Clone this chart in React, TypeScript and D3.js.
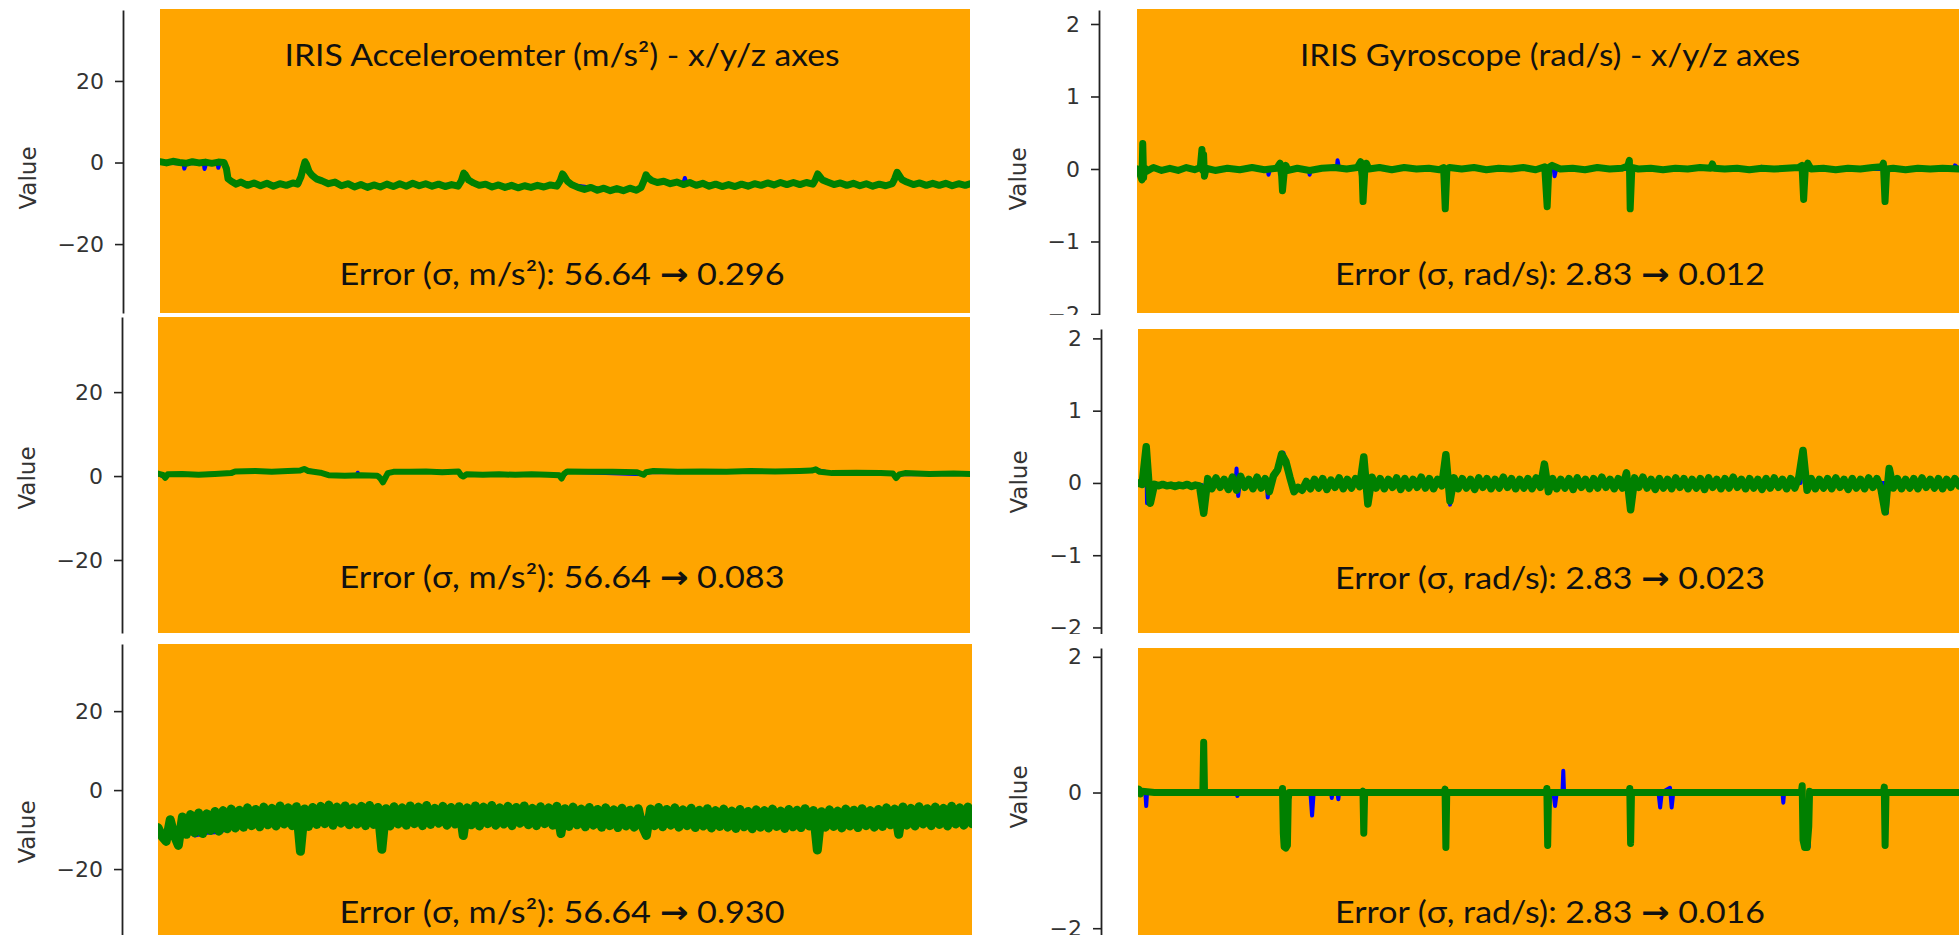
import React, { useEffect, useRef } from "react";
import * as d3 from "d3";

// ---------- text / tick data ----------
const accelTicks = [20, 0, -20];
const gyroTicks = [2, 1, 0, -1, -2];
const gyroZTicks = [2, 0, -2];
const accelTitle = "IRIS Acceleroemter (m/s²) - x/y/z axes";
const gyroTitle = "IRIS Gyroscope (rad/s) - x/y/z axes";
const accelSigma = "56.64";
const gyroSigma = "2.83";
const accelErrors = ["0.296", "0.083", "0.930"];
const gyroErrors = ["0.012", "0.023", "0.016"];
const accelUnit = "m/s²";
const gyroUnit = "rad/s";
const yLabel = "Value";

// ---------- series data (time 0..1000, values) ----------
type P = [number, number];
const SAMPLE_STEP = 5;

const accelXGreen: P[] = [[0,0.2],[8,-0.1],[16,0.3],[24,0],[32,-0.2],[40,0.2],[48,-0.1],[56,0.1],[64,-0.2],[72,0.1],[79,0],[82,-1.5],[84,-4],[88,-4.6],[94,-5.3],[100,-4.8],[108,-5.6],[116,-5],[124,-5.7],[132,-5.1],[140,-5.8],[148,-5.2],[156,-5.6],[164,-5],[170,-5.3],[174,-3.5],[177,-1.2],[179,0.2],[181,-0.5],[184,-2.2],[188,-3.2],[193,-4],[200,-4.5],[208,-5.2],[216,-4.8],[224,-5.7],[232,-5.2],[240,-6],[248,-5.4],[256,-6.1],[264,-5.5],[272,-6],[280,-5.3],[288,-5.9],[296,-5.2],[304,-5.8],[312,-5.1],[320,-5.7],[328,-5.2],[336,-5.8],[344,-5.3],[352,-5.9],[360,-5.4],[368,-5.8],[372,-4.5],[375,-2.6],[377,-3],[381,-4.3],[387,-5],[394,-5.6],[402,-5.3],[410,-6],[418,-5.5],[426,-6.1],[434,-5.6],[442,-6.2],[450,-5.7],[458,-6.1],[466,-5.6],[474,-6],[482,-5.5],[490,-5.8],[494,-4.5],[497,-2.8],[499,-3.3],[503,-4.6],[508,-5.4],[516,-6.1],[524,-6.6],[532,-6.1],[540,-6.8],[548,-6.3],[556,-6.9],[564,-6.4],[572,-6.9],[580,-6.3],[588,-6.8],[594,-6.1],[598,-4.2],[600,-3],[602,-3.6],[607,-4.4],[614,-4.9],[622,-4.6],[630,-5.2],[638,-4.8],[646,-5.4],[654,-4.9],[662,-5.6],[670,-5.1],[678,-5.8],[686,-5.3],[694,-5.9],[702,-5.4],[710,-5.9],[718,-5.3],[726,-5.8],[734,-5.2],[742,-5.6],[750,-5],[758,-5.5],[766,-4.9],[774,-5.4],[782,-4.9],[790,-5.4],[798,-4.9],[806,-5.3],[809,-4.3],[812,-2.8],[814,-3.3],[818,-4.3],[824,-4.8],[832,-5.4],[840,-5],[848,-5.6],[856,-5.1],[864,-5.7],[872,-5.2],[880,-5.8],[888,-5.3],[896,-5.7],[904,-5.2],[907,-4],[910,-2.4],[912,-3],[916,-4.2],[922,-4.8],[930,-5.4],[938,-5],[946,-5.6],[954,-5.1],[962,-5.6],[970,-5.1],[978,-5.7],[986,-5.2],[994,-5.6],[1000,-5.2]];
const accelXBlue: P[] = [[0,0],[20,-0.2],[29,-0.2],[30,-1.5],[32,-0.2],[54,-0.2],[55,-1.6],[57,-0.2],[71,-0.2],[72,-1.3],[74,0],[80,0],[82,-1.5],[84,-4.2],[90,-4.9],[120,-5.3],[150,-5.4],[172,-5.2],[177,-1.2],[179,0],[184,-2.2],[190,-3.6],[200,-4.6],[220,-5.3],[260,-5.7],[300,-5.5],[340,-5.5],[370,-5.4],[375,-2.6],[380,-4.2],[390,-5.2],[420,-5.8],[460,-5.9],[492,-5.6],[497,-2.8],[503,-4.6],[510,-5.6],[550,-6.6],[590,-6.5],[596,-5.5],[600,-3],[607,-4.4],[620,-4.8],[646,-5.1],[648,-3.8],[650,-5.1],[700,-5.6],[760,-5.2],[806,-5.1],[812,-2.8],[818,-4.3],[830,-5.1],[880,-5.5],[905,-5.3],[910,-2.4],[916,-4.2],[930,-5.2],[1000,-5.4]];

const accelYGreen: P[] = [[0,0.6],[6,0.3],[9,-0.4],[12,0.4],[30,0.5],[50,0.3],[70,0.5],[90,0.7],[95,1.1],[120,1.2],[140,1],[160,1.2],[175,1.3],[180,1.7],[185,1.2],[200,0.8],[210,0.2],[230,0.1],[250,0.2],[270,0.1],[274,-0.6],[277,-1.5],[280,-0.4],[283,0.7],[290,1],[310,1],[330,1.1],[350,0.9],[370,1.1],[373,0.2],[376,-0.1],[380,0.4],[400,0.3],[420,0.4],[440,0.3],[460,0.4],[480,0.3],[494,0.2],[497,-0.6],[500,0.5],[504,1.1],[530,1],[560,1],[590,0.9],[598,0.3],[601,0.9],[610,1.2],[640,1],[670,1.1],[700,1],[730,1.2],[760,1.1],[790,1.2],[805,1.3],[810,1.6],[815,1],[830,0.7],[860,0.8],[890,0.7],[905,0.6],[909,-0.5],[913,0.4],[920,0.7],[950,0.5],[980,0.6],[1000,0.5]];
const accelYBlue: P[] = [[0,0.5],[9,-0.3],[12,0.4],[50,0.4],[90,0.7],[95,1.1],[175,1.2],[180,1.6],[200,0.8],[210,0.2],[245,0.2],[246,0.8],[247,0.2],[272,0.1],[277,-1.3],[283,0.7],[290,1],[370,1],[376,0],[380,0.4],[494,0.3],[497,-0.5],[504,1],[598,0.4],[601,0.9],[805,1.2],[810,1.5],[830,0.7],[905,0.6],[909,-0.5],[913,0.4],[1000,0.5]];

// sampled every SAMPLE_STEP time units
const accelZGreen: number[] = [-9.5,-11.8,-13,-7.5,-11.5,-14,-6.8,-11.2,-6.2,-10.8,-5.8,-11,-6,-10.2,-5.4,-10.4,-5.2,-9.8,-4.8,-9.6,-5.1,-9.4,-4.5,-9,-4.9,-9.3,-4.3,-8.8,-4.6,-9.1,-4,-8.6,-4.5,-9,-4.2,-15.5,-4.8,-9.2,-4.4,-8.7,-4.1,-8.5,-3.8,-8.9,-4.3,-8.4,-4,-8.8,-4.5,-8.6,-4.1,-9,-3.9,-8.7,-4.4,-15,-4.7,-9.1,-4.2,-8.6,-4.5,-8.9,-4,-8.5,-4.3,-9,-3.9,-8.7,-4.6,-8.4,-4.1,-8.9,-4.4,-8.6,-4.2,-11.5,-4.5,-8.8,-4,-9.1,-4.3,-8.5,-3.9,-8.9,-4.5,-8.6,-4.1,-9,-4.4,-8.4,-4,-8.8,-4.6,-9,-4.2,-8.5,-4.5,-8.9,-4.1,-11,-4.7,-9.2,-4.3,-8.8,-4.8,-9.3,-4.4,-8.9,-4.9,-9.4,-4.5,-9,-5,-9.5,-4.6,-9.1,-5.1,-9.4,-4.7,-9.2,-11.5,-4.8,-9,-4.4,-9.3,-4.9,-8.9,-4.5,-9.4,-5,-9,-4.6,-9.5,-5.1,-9.1,-4.7,-9.6,-5.2,-9.2,-4.8,-9.4,-5.3,-9.7,-4.9,-9.3,-5.4,-9.8,-5,-9.4,-5.2,-9.6,-4.8,-9.2,-5.3,-9.7,-4.9,-9.3,-5.1,-9.5,-4.7,-9.1,-5.2,-15.2,-5.5,-9.4,-5,-9.2,-5.3,-9.6,-4.8,-9.1,-5.1,-9.5,-4.7,-9,-5.2,-9.4,-4.9,-9.2,-4.5,-8.8,-4.8,-11.2,-4.3,-8.9,-4.6,-9.1,-4.2,-8.6,-4.7,-9,-4.3,-8.7,-4.6,-9.1,-4.1,-8.6,-4.5,-8.9,-4.3,-8.5];
const accelZBlue: P[] = [[0,-10],[2,-11.5],[5,-12],[10,-12.5],[15,-9],[25,-13.5],[30,-9],[45,-11.5],[60,-10.8],[75,-10.6],[90,-9.5],[120,-8],[170,-7],[175,-14.5],[180,-7],[270,-7],[275,-14.5],[280,-7],[500,-7],[700,-7.2],[805,-7.2],[810,-14.5],[815,-7.2],[1000,-7]];

const gyroXGreen: P[] = [[0,0],[3,-0.05],[6,-0.15],[7,0.35],[8,-0.12],[9,0.02],[12,-0.03],[20,0.02],[30,-0.02],[40,0.01],[50,-0.02],[60,0.02],[70,-0.01],[77,0.02],[79,0.27],[80,-0.02],[81,0.2],[82,-0.1],[84,0.01],[95,-0.02],[110,0.01],[125,-0.01],[140,0.02],[155,-0.01],[170,0.01],[174,0.08],[176,-0.1],[177,-0.3],[179,-0.05],[181,0.05],[184,-0.02],[195,0.01],[210,-0.02],[225,0.01],[240,0.02],[255,0],[268,0.02],[272,0.1],[274,-0.1],[275,-0.45],[277,-0.05],[279,0.08],[282,0],[295,0.02],[310,-0.01],[325,0.02],[340,0],[355,0.01],[368,-0.01],[373,0.02],[375,-0.55],[377,0],[380,0.02],[395,0],[410,0.02],[425,-0.01],[440,0.01],[455,0],[470,0.02],[485,-0.01],[496,0.03],[499,-0.52],[501,0.02],[505,0.05],[515,0],[530,0.01],[545,-0.01],[560,0.02],[575,0],[590,0.01],[597,0.04],[599,0.12],[600,-0.55],[602,0.02],[610,0],[625,0.01],[640,-0.01],[655,0.01],[670,0],[685,0.02],[698,0.01],[700,0.07],[702,0.01],[715,0],[730,0.01],[745,-0.01],[760,0.01],[775,0],[790,0.01],[805,0.02],[809,0.05],[811,-0.42],[813,0.01],[816,0.08],[820,0],[835,0.01],[850,-0.01],[865,0.01],[880,0],[895,0.02],[906,0.03],[908,0.08],[910,-0.45],[912,0],[920,0.01],[935,-0.01],[950,0.01],[965,0],[980,0.01],[1000,0]];
const gyroXBlue: P[] = [[0,0],[5,0],[6,-0.15],[7,0.3],[8,-0.1],[9,0],[79,0],[80,0.25],[82,0],[159,0],[160,-0.08],[162,0],[176,0],[177,-0.28],[179,0],[209,0],[210,-0.08],[212,0],[243,0],[244,0.12],[246,0],[274,0],[275,-0.42],[277,0],[374,0],[375,-0.5],[377,0],[498,0],[499,-0.5],[501,0],[507,0],[508,-0.1],[510,0],[599,0],[600,-0.5],[602,0],[759,0],[760,0.03],[762,0],[810,0],[811,-0.4],[813,0],[909,0],[910,-0.42],[912,0],[994,0],[995,0.05],[1000,0]];

// sampled every SAMPLE_STEP time units
const gyroYGreen: number[] = [0,-0.02,0.5,-0.28,-0.02,-0.04,-0.02,-0.04,-0.03,-0.05,-0.03,-0.04,-0.02,-0.05,-0.03,-0.04,-0.42,0.06,-0.08,0.07,-0.06,0.05,-0.09,0.08,-0.1,0.09,-0.06,0.05,-0.08,0.08,-0.07,0.06,-0.12,0.1,0.18,0.4,0.3,0.08,-0.12,-0.06,-0.1,0.02,-0.08,0.05,-0.07,0.06,-0.09,0.04,-0.06,0.07,-0.08,0.05,-0.07,0.06,-0.05,0.36,-0.29,0.08,-0.07,0.06,-0.08,0.05,-0.06,0.07,-0.09,0.06,-0.07,0.05,-0.06,0.08,-0.07,0.06,-0.08,0.05,-0.04,0.39,-0.25,0.07,-0.08,0.06,-0.07,0.05,-0.09,0.07,-0.06,0.06,-0.08,0.05,-0.07,0.08,-0.06,0.06,-0.08,0.05,-0.07,0.06,-0.08,0.07,-0.06,0.26,-0.12,0.06,-0.08,0.05,-0.07,0.06,-0.09,0.07,-0.06,0.05,-0.08,0.06,-0.07,0.08,-0.06,0.05,-0.08,0.06,-0.07,0.14,-0.37,0.07,-0.06,0.08,-0.07,0.05,-0.09,0.06,-0.07,0.05,-0.08,0.07,-0.06,0.06,-0.08,0.05,-0.07,0.06,-0.09,0.07,-0.06,0.05,-0.08,0.06,-0.07,0.08,-0.06,0.05,-0.08,0.06,-0.07,0.05,-0.09,0.06,-0.07,0.07,-0.06,0.05,-0.08,0.06,-0.07,0.08,0.45,-0.1,0.06,-0.08,0.05,-0.07,0.06,-0.08,0.07,-0.06,0.05,-0.09,0.06,-0.07,0.05,-0.08,0.07,-0.06,0.06,-0.08,-0.4,0.2,-0.07,0.06,-0.08,0.05,-0.07,0.06,-0.08,0.07,-0.06,0.05,-0.07,0.06,-0.08,0.05,-0.06,0.06,-0.04];
const gyroYBlue: P[] = [[0,0],[9,0],[10,0.45],[11,-0.28],[13,-0.03],[78,-0.03],[80,-0.4],[85,0],[119,0],[120,0.2],[122,-0.18],[124,0],[157,0],[158,-0.2],[160,0],[170,0.15],[177,0.42],[190,-0.12],[200,-0.05],[273,0],[275,0.35],[280,-0.3],[285,0],[373,0],[375,0.38],[380,-0.3],[385,0],[493,0],[495,0.25],[500,-0.12],[505,0],[597,0],[600,-0.38],[605,0],[807,0],[810,0.45],[815,-0.1],[820,0],[909,0],[912,-0.42],[915,0.2],[920,0],[994,0],[995,0.06],[1000,0]];

const gyroZGreen: P[] = [[0,0],[1,0.05],[3,-0.02],[5,0.02],[20,0],[40,0],[60,0],[79,0],[80,0.74],[81,0],[100,0],[120,0],[140,0],[160,0],[175,0],[176,0.06],[177,-0.6],[178,-0.8],[180,-0.82],[182,-0.78],[183,-0.1],[184,0],[200,0],[230,0],[250,0],[273,0],[274,0.02],[275,-0.6],[276,-0.02],[277,0],[300,0],[330,0],[360,0],[373,0],[374,0.05],[375,-0.81],[376,-0.05],[377,0],[400,0],[440,0],[480,0],[497,0],[498,0.06],[499,-0.78],[500,-0.05],[501,0],[530,0],[570,0],[598,0],[599,0.06],[600,-0.75],[601,-0.05],[602,0],[640,0],[680,0],[720,0],[760,0],[800,0],[808,0],[809,0.1],[810,-0.7],[812,-0.81],[815,-0.81],[817,-0.5],[818,0.02],[820,0],[860,0],[900,0],[908,0],[909,0.08],[910,-0.78],[911,-0.05],[912,0],[950,0],[1000,0]];
const gyroZBlue: P[] = [[0,0],[9,0],[10,-0.2],[11,0],[79,0],[80,0.7],[81,0],[120,0],[121,-0.05],[122,0],[176,0],[177,-0.78],[182,-0.8],[183,0],[210,0],[212,-0.34],[214,0],[235,0],[236,-0.08],[237,0],[243,0],[244,-0.1],[245,0],[274,0],[275,-0.58],[276,0],[374,0],[375,-0.8],[376,0],[498,0],[499,-0.78],[500,0],[506,0],[508,-0.2],[510,0],[517,0],[518,0.32],[519,0],[599,0],[600,-0.75],[601,0],[634,0],[636,-0.22],[638,0],[648,0.07],[650,-0.22],[652,0],[785,0],[786,-0.15],[787,0],[809,0],[810,-0.78],[817,-0.8],[818,0],[909,0],[910,-0.78],[911,0],[1000,0]];

const TIME_DOMAIN: [number, number] = [0, 1000];
const uniform = (vals: number[]): P[] => vals.map((v, i) => [i * SAMPLE_STEP, v]);

// ---------- layout ----------
const ORANGE = "#ffa500";
const GREEN = "#008000";
const BLUE = "#0000ff";
const TEXT_FONT = "Lato, 'Open Sans', sans-serif";

type Panel = {
  rect: { x: number; y: number; w: number; h: number };
  axisX: number;
  yRange: [number, number];
  yDomain: [number, number];
  ticks: number[];
  clip: [number, number];
  green: P[];
  blue: P[];
  greenW: number;
  title?: string;
  titleW?: number;
  unit: string;
  sigma: string;
  err: string;
  errorW: number;
  errorY: number;
  labelPos: [number, number];
};

const panels: Panel[] = [
  { rect: { x: 160, y: 9, w: 810, h: 304 }, axisX: 123, yRange: [313, 10], yDomain: [-36.9, 37.4], ticks: accelTicks, clip: [0, 315], green: accelXGreen, blue: accelXBlue, greenW: 7, title: accelTitle, titleW: 555, unit: accelUnit, sigma: accelSigma, err: accelErrors[0], errorW: 445, errorY: 285, labelPos: [28, 178] },
  { rect: { x: 158, y: 317, w: 812, h: 316 }, axisX: 122, yRange: [633, 317], yDomain: [-37.4, 37.9], ticks: accelTicks, clip: [315, 634], green: accelYGreen, blue: accelYBlue, greenW: 6, unit: accelUnit, sigma: accelSigma, err: accelErrors[1], errorW: 445, errorY: 588, labelPos: [27, 478] },
  { rect: { x: 158, y: 644, w: 814, h: 291 }, axisX: 122, yRange: [935, 644], yDomain: [-36.7, 37.0], ticks: accelTicks, clip: [636, 935], green: uniform(accelZGreen), blue: accelZBlue, greenW: 9, unit: accelUnit, sigma: accelSigma, err: accelErrors[2], errorW: 445, errorY: 923, labelPos: [27, 832] },
  { rect: { x: 1137, y: 9, w: 822, h: 304 }, axisX: 1099, yRange: [315, 10], yDomain: [-2.014, 2.193], ticks: gyroTicks, clip: [0, 315], green: gyroXGreen, blue: gyroXBlue, greenW: 7, title: gyroTitle, titleW: 500, unit: gyroUnit, sigma: gyroSigma, err: gyroErrors[0], errorW: 430, errorY: 285, labelPos: [1018, 179] },
  { rect: { x: 1138, y: 329, w: 821, h: 304 }, axisX: 1101, yRange: [634, 329], yDomain: [-2.09, 2.13], ticks: gyroTicks, clip: [317, 634], green: uniform(gyroYGreen), blue: gyroYBlue, greenW: 7.5, unit: gyroUnit, sigma: gyroSigma, err: gyroErrors[1], errorW: 430, errorY: 589, labelPos: [1019, 482] },
  { rect: { x: 1138, y: 648, w: 821, h: 287 }, axisX: 1101, yRange: [935, 648], yDomain: [-2.1, 2.13], ticks: gyroZTicks, clip: [636, 935], green: gyroZGreen, blue: gyroZBlue, greenW: 7, unit: gyroUnit, sigma: gyroSigma, err: gyroErrors[2], errorW: 430, errorY: 923, labelPos: [1019, 797] },
];

const fmt = (d: number) => (d < 0 ? "\u2212" + Math.abs(d) : String(d));

export default function App() {
  const axisRefs = useRef<(SVGGElement | null)[]>([]);

  const scales = panels.map((p) => ({
    x: d3.scaleLinear().domain(TIME_DOMAIN).range([p.rect.x, p.rect.x + p.rect.w]),
    y: d3.scaleLinear().domain(p.yDomain).range(p.yRange),
  }));

  useEffect(() => {
    panels.forEach((p, i) => {
      const el = axisRefs.current[i];
      if (!el) return;
      const g = d3.select(el);
      g.selectAll("*").remove();
      g.call(
        d3
          .axisLeft(scales[i].y)
          .tickValues(p.ticks)
          .tickSize(8)
          .tickSizeOuter(0)
          .tickPadding(11)
          .tickFormat((d) => fmt(d as number)) as any
      );
      g.select(".domain").attr("stroke", "#222").attr("stroke-width", 1.8);
      g.selectAll(".tick line").attr("stroke", "#222").attr("stroke-width", 1.6);
      g.selectAll(".tick text")
        .attr("font-family", "DejaVu Sans")
        .attr("font-size", 22)
        .attr("fill", "#333");
    });
  }, []);

  return (
    <svg
      width={1959}
      height={935}
      style={{ position: "absolute", left: 0, top: 0, background: "#fff" }}
    >
      <defs>
        {panels.map((p, i) => (
          <clipPath id={`plot-${i}`} key={`pc${i}`}>
            <rect x={p.rect.x} y={p.rect.y} width={p.rect.w} height={p.rect.h} />
          </clipPath>
        ))}
        {panels.map((p, i) => (
          <clipPath id={`ax-${i}`} key={`ac${i}`}>
            <rect x={p.axisX - 120} y={p.clip[0]} width={140} height={p.clip[1] - p.clip[0]} />
          </clipPath>
        ))}
      </defs>
      {panels.map((p, i) => {
        const s = scales[i];
        const line = d3
          .line<P>()
          .x((d) => s.x(d[0]))
          .y((d) => s.y(d[1]));
        const textX = i < 3 ? 562 : 1550;
        return (
          <g key={i}>
            <rect x={p.rect.x} y={p.rect.y} width={p.rect.w} height={p.rect.h} fill={ORANGE} />
            <g clipPath={`url(#plot-${i})`}>
              <path d={line(p.blue) || ""} fill="none" stroke={BLUE} strokeWidth={4} strokeLinejoin="round" strokeLinecap="round" />
              <path d={line(p.green) || ""} fill="none" stroke={GREEN} strokeWidth={p.greenW} strokeLinejoin="round" strokeLinecap="round" />
            </g>
            <g clipPath={`url(#ax-${i})`}>
              <g ref={(el) => { axisRefs.current[i] = el; }} transform={`translate(${p.axisX},0)`} />
            </g>
            <text
              transform={`translate(${p.labelPos[0]},${p.labelPos[1]}) rotate(-90)`}
              textAnchor="middle"
              dominantBaseline="central"
              fontFamily="DejaVu Sans"
              fontSize={23}
              fill="#333"
            >
              {yLabel}
            </text>
            {p.title && (
              <text
                x={textX}
                y={66}
                textAnchor="middle"
                fontFamily={TEXT_FONT}
                fontSize={31}
                fill="#111"
                textLength={p.titleW}
                lengthAdjust="spacingAndGlyphs"
              >
                {p.title}
              </text>
            )}
            <text
              x={textX}
              y={p.errorY}
              textAnchor="middle"
              fontFamily={TEXT_FONT}
              fontSize={31}
              fill="#111"
              textLength={p.errorW}
              lengthAdjust="spacingAndGlyphs"
            >
              {`Error (σ, ${p.unit}): ${p.sigma} `}
              <tspan fontFamily="DejaVu Sans" fontWeight="bold">→</tspan>
              {` ${p.err}`}
            </text>
          </g>
        );
      })}
    </svg>
  );
}
